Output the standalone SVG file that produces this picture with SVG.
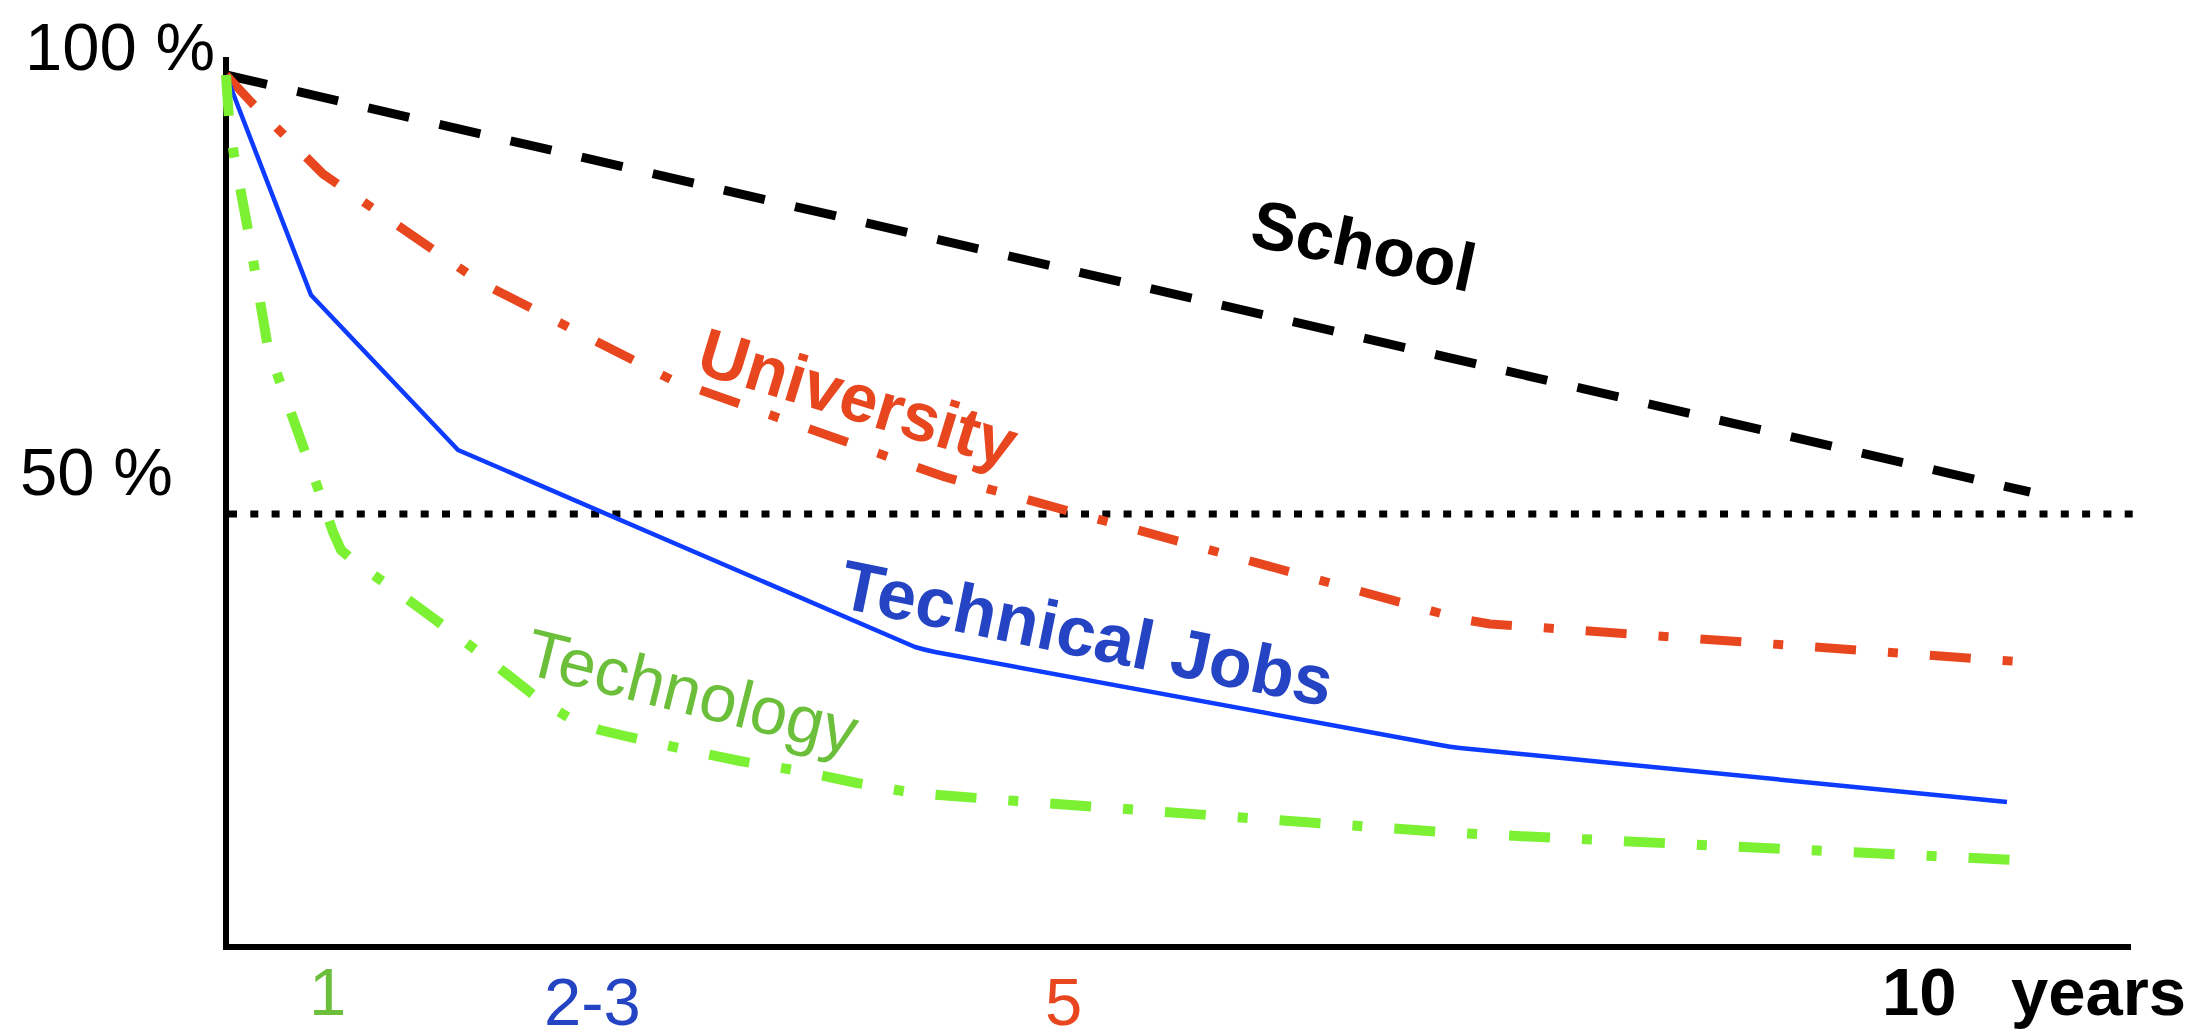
<svg xmlns="http://www.w3.org/2000/svg" width="2203" height="1035" viewBox="0 0 2203 1035">
<style>
text{font-family:"Liberation Sans",Arial,sans-serif;font-size:67px}
.b{font-weight:bold}
.k{fill:#000}
.r{fill:#E8461E}
.bl{fill:#2544C4}
.g{fill:#6BBF3A}
.ln{fill:none;stroke-linejoin:round}
</style>
<rect width="2203" height="1035" fill="#fff"/>
<g id="axes">
<path d="M226,57 L226,947 L2131,947" fill="none" stroke="#000" stroke-width="6" stroke-linejoin="miter"/>
<line id="half-line" x1="229" y1="514" x2="2136" y2="514" stroke="#000" stroke-width="7" stroke-dasharray="8 13.3"/>
</g>
<g id="connectors">
<path id="school-line" class="ln" d="M226,75 L2030,492" stroke="#000" stroke-width="9" stroke-dasharray="42 31"/>
<path id="university-line" class="ln" d="M226,75 L252,103 L323,174 L480,282 L672,380 L945,477 L1461,619 L1490,624 L2025,662" stroke="#E8461E" stroke-width="9" stroke-dasharray="41 32 10 32"/>
<path id="jobs-line" class="ln" d="M226,75 L311,295 L458,450 L915,647 Q925,650 935,652 L1440,745 Q1450,747 1460,748 L2007,802" stroke="#0D3BFF" stroke-width="4.5"/>
<path id="technology-line" class="ln" d="M226,75 L229,120 L234,155 L248,230 L268,348 L281,385 L308,460 L321,497 L333,532 L341,550 L355,562 L388,585 L433,618 L480,653 L540,700 L576,722 L600,730 L625,736 L687,750 L740,761 L800,771 L857,783 L914,793 L1029,802 L1455,833 L2015,860" stroke="#7CF134" stroke-width="10" stroke-dasharray="41 32 10 32"/>
</g>
<g id="axis-labels">
<text x="25" y="70" class="k">100 %</text>
<text x="20" y="495" class="k">50 %</text>
<text x="309" y="1015" class="g">1</text>
<text x="544" y="1025" class="bl">2-3</text>
<text x="1045" y="1025" class="r">5</text>
<text x="1882" y="1015" class="k b">10<tspan x="2011">years</tspan></text>
</g>
<g id="school"><text class="k b" transform="translate(1248,245) rotate(12)" style="font-size:68px">School</text></g>
<g id="university"><text class="r b" transform="translate(694,372) rotate(17)" style="font-size:68px">University</text></g>
<g id="technical-jobs"><text class="bl b" transform="translate(837,607) rotate(11.5)" style="font-size:70px">Technical Jobs</text></g>
<g id="technology"><text class="g" transform="translate(522,673) rotate(14)">Technology</text></g>
</svg>
